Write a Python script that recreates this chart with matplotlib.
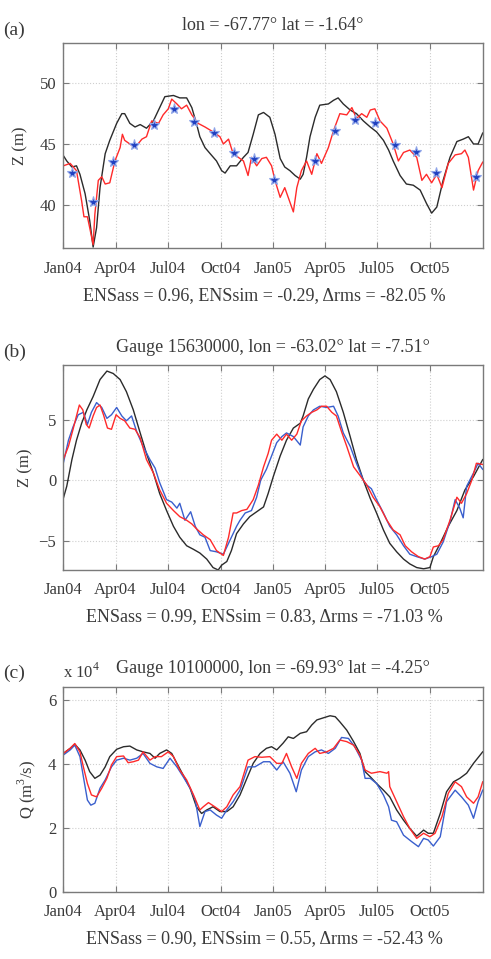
import numpy as np
import matplotlib
matplotlib.use('Agg')
import matplotlib.pyplot as plt
import matplotlib.dates as mdates

plt.rcParams['font.family'] = ['Liberation Serif', 'DejaVu Serif']
plt.rcParams['mathtext.fontset'] = 'custom'
plt.rcParams['mathtext.rm'] = 'Liberation Serif'

start = np.datetime64('2004-01-01')

# ---- panel (a): water level at virtual station (m) ----
a_sim_day = [0, 6, 15, 23, 29, 38, 46, 52, 58, 64, 73, 81, 93, 102, 107, 116, 125, 134, 145, 157, 168, 177,
             192, 203, 215, 224, 232, 238, 247, 256, 267, 276, 282, 291, 302, 314, 322, 331, 340, 349, 360, 369,
             378, 386, 395, 404, 413, 418, 424, 430, 439, 447, 462, 471, 479, 488, 500, 511, 523, 535, 546, 558,
             567, 575, 587, 598, 610, 622, 633, 642, 651, 662, 674, 686, 697, 706, 715, 723, 731]
a_sim = [44.05, 43.6, 43.1, 43.2, 42.5, 40.9, 38.7, 36.5, 38.1, 41.4, 44.2, 45.3, 46.7, 47.5, 47.5, 46.7, 46.4,
         46.6, 46.3, 46.9, 48.0, 48.9, 49.0, 48.8, 48.8, 48.0, 46.7, 45.6, 44.7, 44.2, 43.6, 42.8, 42.6, 43.2,
         43.2, 43.9, 44.3, 45.8, 47.4, 47.6, 47.2, 45.8, 43.8, 43.1, 42.8, 42.4, 42.1, 42.5, 43.9, 45.6, 47.2,
         48.2, 48.3, 48.6, 48.8, 48.3, 47.8, 47.5, 46.9, 46.4, 46.0, 45.3, 44.5, 43.6, 42.4, 41.7, 41.6, 41.2,
         40.1, 39.3, 39.8, 42.0, 43.9, 45.2, 45.4, 45.6, 45.0, 45.0, 45.9]

a_ass_day = [0, 12, 23, 32, 36, 42, 46, 52, 55, 61, 67, 73, 81, 90, 99, 103, 107, 116, 125, 137, 145, 154, 166,
             174, 183, 189, 198, 206, 215, 224, 235, 247, 261, 273, 279, 288, 296, 305, 314, 322, 328, 337, 346,
             354, 363, 369, 378, 386, 392, 401, 407, 415, 424, 433, 442, 450, 462, 471, 482, 494, 503, 511, 520,
             529, 535, 543, 552, 564, 575, 584, 593, 604, 616, 625, 633, 642, 651, 660, 671, 683, 694, 700, 706,
             715, 723, 731]
a_ass = [43.2, 43.4, 42.8, 40.3, 39.0, 39.0, 38.1, 36.7, 39.2, 42.0, 42.3, 41.7, 41.8, 43.6, 44.7, 45.8, 45.3,
         45.0, 44.7, 45.4, 45.6, 46.9, 46.7, 47.4, 47.9, 48.7, 48.3, 47.9, 48.2, 47.4, 46.7, 46.4, 46.0, 45.6,
         45.0, 45.4, 44.2, 43.9, 43.6, 42.4, 43.9, 43.2, 43.8, 43.9, 43.2, 42.0, 40.6, 41.4, 40.6, 39.4, 41.4,
         42.8, 43.6, 42.5, 44.2, 43.4, 44.7, 46.1, 47.5, 47.4, 48.0, 47.1, 47.5, 47.2, 47.8, 47.9, 46.9, 46.3,
         45.0, 43.6, 44.3, 44.5, 43.9, 42.0, 42.5, 41.8, 42.5, 41.4, 43.4, 44.1, 44.2, 44.5, 43.9, 41.2, 42.8,
         43.5]

a_obs_day = [16, 52, 87, 123, 158, 193, 228, 263, 298, 333, 367, 439, 474, 508, 544, 579, 615, 650, 719]
a_obs = [42.6, 40.25, 43.5, 44.9, 46.6, 47.85, 46.85, 45.9, 44.25, 43.8, 42.0, 43.6, 46.1, 46.95, 46.7,
         44.9, 44.3, 42.6, 42.25]

# ---- panel (b): gauge 15630000 water level (m) ----
b_sim_day = [0, 6, 15, 23, 32, 41, 52, 64, 76, 87, 99, 110, 122, 134, 145, 157, 168, 180, 192, 203, 215, 227,
             238, 250, 261, 270, 276, 285, 293, 302, 314, 325, 337, 349, 357, 366, 378, 389, 401, 413, 418, 427,
             436, 447, 456, 465, 476, 488, 500, 511, 523, 535, 546, 558, 569, 581, 593, 604, 616, 628, 639, 645,
             657, 671, 686, 700, 715, 731]
b_sim = [-1.5, -0.5, 1.7, 3.3, 4.7, 5.8, 6.9, 8.3, 9.0, 8.8, 8.3, 7.3, 5.8, 3.9, 2.2, 0.6, -1.1, -2.5, -3.8,
         -4.7, -5.4, -5.7, -6.0, -6.5, -7.2, -7.4, -7.0, -6.7, -5.8, -4.4, -3.6, -3.0, -2.6, -2.2, -1.1, 0.3,
         2.0, 3.3, 4.3, 4.7, 5.3, 6.7, 7.5, 8.3, 8.6, 8.3, 7.3, 5.6, 3.6, 1.7, 0.0, -1.5, -2.7, -4.1, -5.2,
         -5.9, -6.5, -6.9, -7.2, -7.3, -7.2, -6.3, -5.2, -3.8, -2.5, -0.8, 0.3, 1.7]

b_ass_day = [0, 9, 17, 23, 28, 34, 40, 45, 52, 58, 64, 70, 77, 84, 92, 99, 107, 116, 125, 134, 145, 157, 168,
             180, 192, 203, 215, 224, 232, 244, 256, 267, 279, 288, 296, 302, 311, 320, 331, 340, 349, 357, 363,
             372, 381, 389, 398, 407, 415, 424, 433, 442, 450, 459, 468, 476, 485, 494, 506, 517, 529, 540, 552,
             564, 575, 587, 596, 607, 619, 630, 639, 645, 654, 662, 674, 686, 694, 703, 712, 720, 731]
b_ass = [1.7, 2.8, 4.2, 5.3, 6.2, 5.8, 4.6, 4.3, 5.3, 6.0, 6.2, 5.4, 4.3, 4.2, 5.4, 5.1, 4.9, 4.3, 4.2, 3.5,
         1.7, 0.6, -0.8, -1.9, -2.5, -3.0, -3.3, -3.6, -4.0, -4.5, -4.9, -5.8, -6.2, -4.7, -2.7, -2.7, -2.5,
         -2.4, -1.6, -0.4, 1.1, 2.2, 3.3, 3.8, 3.3, 3.8, 3.3, 3.8, 4.9, 5.3, 5.6, 5.8, 6.1, 6.1, 5.6, 5.3,
         4.0, 2.8, 1.1, 0.4, -0.4, -1.4, -2.2, -3.3, -4.1, -4.5, -5.4, -5.9, -6.3, -6.5, -6.3, -5.5, -5.4,
         -4.9, -3.3, -1.4, -1.9, -1.1, 0.0, 1.4, 1.3]

b_obs_day = [0, 9, 17, 26, 35, 42, 49, 58, 67, 76, 84, 93, 102, 110, 119, 128, 139, 151, 160, 168, 180, 189,
             198, 203, 212, 222, 230, 238, 247, 256, 267, 279, 291, 302, 308, 317, 328, 337, 344, 354, 363, 372,
             381, 389, 401, 413, 418, 427, 436, 447, 459, 471, 479, 488, 500, 511, 523, 529, 537, 546, 558, 569,
             581, 593, 604, 616, 630, 642, 651, 662, 674, 683, 691, 697, 703, 715, 723, 731]
b_obs = [1.4, 3.3, 4.4, 5.4, 5.6, 4.6, 5.6, 6.4, 6.0, 5.1, 5.4, 6.0, 5.3, 4.9, 5.3, 4.0, 2.8, 1.7, 1.0,
         -0.2, -1.6, -1.8, -2.3, -1.9, -3.3, -2.6, -3.8, -4.5, -4.7, -5.8, -5.9, -6.1, -4.9, -3.8, -3.3, -2.7,
         -2.5, -1.4, 0.0, 0.9, 2.0, 3.1, 3.6, 3.9, 3.6, 2.9, 4.4, 5.3, 5.8, 6.1, 6.0, 6.1, 5.3, 3.9, 2.8, 1.4,
         0.0, -0.4, -0.7, -1.6, -2.7, -3.8, -4.5, -5.4, -6.1, -6.3, -6.5, -6.3, -6.1, -5.1, -3.4, -1.6, -2.3,
         -3.1, -0.5, 0.6, 1.4, 0.9]

# ---- panel (c): gauge 10100000 discharge (x 10^4 m3/s) ----
c_sim_day = [0, 12, 20, 29, 38, 46, 55, 64, 73, 81, 93, 105, 116, 128, 139, 151, 160, 168, 180, 189, 198, 209,
             221, 232, 241, 250, 261, 273, 285, 296, 308, 320, 331, 343, 354, 363, 372, 383, 392, 401, 413, 424,
             433, 442, 456, 465, 474, 482, 494, 506, 517, 526, 535, 546, 558, 569, 581, 593, 604, 616, 628, 636,
             645, 657, 668, 680, 691, 703, 715, 731]
c_sim = [4.33, 4.49, 4.62, 4.44, 4.12, 3.76, 3.55, 3.65, 3.91, 4.23, 4.46, 4.54, 4.56, 4.44, 4.38, 4.33, 4.18,
         4.33, 4.44, 4.33, 4.02, 3.65, 3.24, 2.66, 2.45, 2.56, 2.66, 2.51, 2.51, 2.66, 3.03, 3.55, 4.02, 4.33,
         4.49, 4.54, 4.44, 4.65, 4.85, 4.80, 4.96, 5.01, 5.22, 5.38, 5.46, 5.51, 5.48, 5.32, 5.06, 4.70, 4.33,
         3.76, 3.60, 3.39, 3.18, 2.97, 2.56, 2.24, 1.98, 1.74, 1.93, 1.83, 1.83, 2.45, 3.13, 3.44, 3.55, 3.71,
         4.02, 4.38]

c_ass_day = [0, 12, 20, 29, 35, 42, 49, 58, 67, 76, 84, 93, 105, 113, 122, 131, 139, 151, 160, 171, 183, 192,
             203, 215, 227, 238, 244, 253, 264, 276, 285, 296, 308, 322, 334, 346, 360, 372, 381, 389, 398, 407,
             415, 427, 439, 447, 459, 471, 482, 494, 506, 517, 526, 537, 552, 564, 567, 569, 581, 593, 604, 616,
             628, 639, 648, 660, 671, 683, 694, 703, 715, 723, 731]
c_ass = [4.33, 4.49, 4.64, 4.38, 3.91, 3.39, 3.03, 2.97, 3.24, 3.55, 3.97, 4.23, 4.25, 4.04, 4.07, 4.12, 4.38,
         4.12, 4.23, 4.23, 4.38, 4.23, 3.81, 3.50, 3.03, 2.56, 2.66, 2.79, 2.66, 2.51, 2.66, 3.03, 3.29, 4.12,
         4.23, 4.21, 4.23, 4.02, 4.02, 4.33, 3.91, 3.55, 4.02, 4.33, 4.49, 4.33, 4.38, 4.49, 4.75, 4.70, 4.59,
         4.28, 3.81, 3.71, 3.76, 3.71, 3.76, 3.29, 2.82, 2.35, 1.98, 1.67, 1.83, 1.72, 1.83, 2.35, 3.08, 3.44,
         3.29, 2.97, 2.77, 2.97, 3.44]

c_obs_day = [0, 12, 20, 29, 35, 42, 48, 55, 64, 73, 84, 93, 105, 116, 128, 139, 151, 163, 174, 186, 198, 209,
             221, 230, 238, 247, 256, 267, 276, 285, 296, 308, 322, 334, 349, 360, 372, 383, 395, 406, 415, 427,
             439, 450, 462, 474, 485, 497, 508, 520, 526, 535, 546, 558, 567, 572, 581, 593, 607, 619, 628, 636,
             645, 657, 668, 683, 694, 706, 715, 723, 731]
c_obs = [4.28, 4.44, 4.59, 4.23, 3.60, 2.87, 2.71, 2.77, 3.24, 3.50, 3.91, 4.12, 4.18, 4.12, 4.18, 4.33, 4.02,
         3.91, 3.86, 4.18, 3.91, 3.60, 3.24, 2.87, 2.04, 2.51, 2.56, 2.40, 2.30, 2.56, 2.82, 3.18, 3.91, 3.91,
         4.07, 4.07, 3.81, 4.07, 3.71, 3.13, 3.81, 4.23, 4.38, 4.44, 4.33, 4.49, 4.83, 4.80, 4.54, 4.12, 3.55,
         3.55, 3.39, 3.03, 2.66, 2.24, 2.19, 1.77, 1.57, 1.41, 1.67, 1.62, 1.43, 1.72, 2.82, 3.18, 2.97, 2.71,
         2.30, 2.82, 3.18]

panel_titles = ['lon = -67.77° lat = -1.64°',
                'Gauge 15630000, lon = -63.02° lat = -7.51°',
                'Gauge 10100000, lon = -69.93° lat = -4.25°']
panel_scores = ['ENSass = 0.96, ENSsim = -0.29, Δrms = -82.05 %',
                'ENSass = 0.99, ENSsim = 0.83, Δrms = -71.03 %',
                'ENSass = 0.90, ENSsim = 0.55, Δrms = -52.43 %']
panel_tags = ['(a)', '(b)', '(c)']
ylabels = ['Z (m)', 'Z (m)', 'Q (m$^3$/s)']
yticks = [[40, 45, 50], [-5, 0, 5], [0, 2, 4, 6]]
ylims = [(36.4, 53.3), (-7.4, 9.5), (0, 6.42)]
ylabel_x = [-0.083, -0.072, -0.06]

tick_dates = ['2004-01-01', '2004-04-01', '2004-07-01', '2004-10-01',
              '2005-01-01', '2005-04-01', '2005-07-01', '2005-10-01']

def to_dates(days):
    return start + np.array(days).astype('timedelta64[D]')

c_black = '#2b2b2b'
c_red = '#ff2a2a'
c_blue = '#3a5fcd'
c_text = '#3a3a3a'
c_frame = '#7a7a7a'

fig = plt.figure(figsize=(4.91, 9.59), dpi=100)
W, H = 491.0, 959.0
boxes = [(43.3, 248.3), (365.0, 570.0), (686.7, 891.7)]

series = [
    [(a_sim_day, a_sim, c_black), (a_ass_day, a_ass, c_red)],
    [(b_sim_day, b_sim, c_black), (b_obs_day, b_obs, c_blue), (b_ass_day, b_ass, c_red)],
    [(c_sim_day, c_sim, c_black), (c_obs_day, c_obs, c_blue), (c_ass_day, c_ass, c_red)],
]

fs = 12
fs_txt = 13
for i in range(3):
    top, bot = boxes[i]
    ax = fig.add_axes([63.3 / W, 1 - bot / H, 419.4 / W, (bot - top) / H])
    for d, v, col in series[i]:
        ax.plot(to_dates(d), v, color=col, lw=1.0)
    if i == 0:
        ax.plot(to_dates(a_obs_day), a_obs, linestyle='none', marker='*', markersize=8,
                color='#2040c0', markeredgecolor='#8ea4e8', markeredgewidth=0.8)
    ax.set_xlim(start, start + np.timedelta64(731, 'D'))
    ax.set_ylim(*ylims[i])
    ax.set_yticks(yticks[i])
    ax.set_xticks([np.datetime64(t) for t in tick_dates])
    ax.xaxis.set_major_formatter(mdates.DateFormatter('%b%y'))
    ax.grid(True, color='#cfcfcf', linestyle=':', linewidth=0.8)
    ax.tick_params(direction='in', top=True, right=True, length=4, width=0.8,
                   colors=c_frame, labelcolor=c_text, labelsize=fs)
    ax.tick_params(axis='x', pad=9)
    ax.tick_params(axis='y', pad=5)
    for s in ax.spines.values():
        s.set_color(c_frame)
        s.set_linewidth(1.0)
    ax.set_ylabel(ylabels[i], fontsize=fs, color=c_text)
    ax.yaxis.set_label_coords(ylabel_x[i], 0.5)
    fig.text(273 / W, 1 - (top - 18) / H, panel_titles[i], ha='center', va='center',
             fontsize=fs_txt, color=c_text)
    fig.text(3 / W, 1 - (top - 13) / H, panel_tags[i], ha='left', va='center',
             fontsize=fs_txt + 1, color=c_text)
    fig.text(264 / W, 1 - (bot + 47) / H, panel_scores[i], ha='center', va='center',
             fontsize=fs_txt, color=c_text)
    if i == 2:
        fig.text(63 / W, 1 - (top - 15) / H, 'x 10$^4$', ha='left', va='center',
                 fontsize=fs, color=c_text)

fig.savefig('out.png', dpi=100)
